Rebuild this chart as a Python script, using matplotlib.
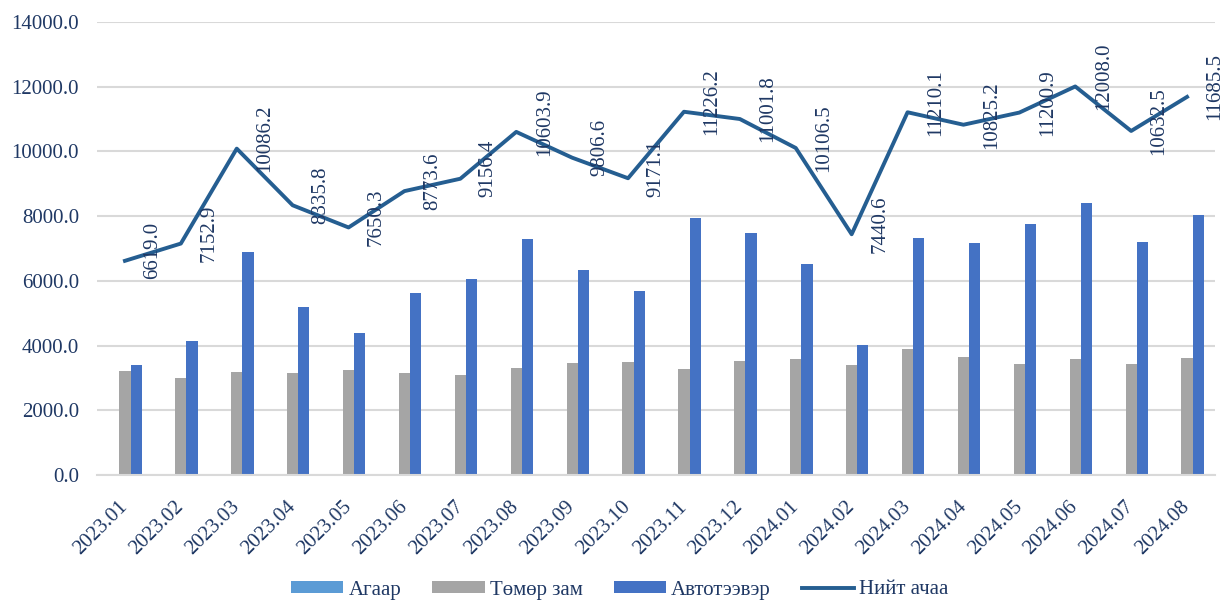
import matplotlib.pyplot as plt
import numpy as np

months = ["2023.01", "2023.02", "2023.03", "2023.04", "2023.05", "2023.06", "2023.07",
          "2023.08", "2023.09", "2023.10", "2023.11", "2023.12", "2024.01", "2024.02",
          "2024.03", "2024.04", "2024.05", "2024.06", "2024.07", "2024.08"]

# Агаар is too small to see on the chart
air = [0.2, 0.2, 0.2, 0.2, 0.2, 0.2, 0.2, 0.2, 0.2, 0.2,
       0.2, 0.2, 0.2, 0.2, 0.2, 0.2, 0.2, 0.2, 0.2, 0.2]
rail = [3210, 3005, 3170, 3150, 3260, 3140, 3080, 3315, 3455, 3490,
        3265, 3510, 3580, 3415, 3880, 3650, 3445, 3580, 3425, 3630]
road = [3395, 4145, 6900, 5180, 4385, 5620, 6070, 7280, 6345, 5675,
        7950, 7480, 6515, 4025, 7320, 7165, 7745, 8415, 7200, 8045]
total = [6619.0, 7152.9, 10086.2, 8335.8, 7650.3, 8773.6, 9156.4, 10603.9, 9806.6, 9171.1,
         11226.2, 11001.8, 10106.5, 7440.6, 11210.1, 10825.2, 11200.9, 12008.0, 10632.5, 11685.5]

navy = "#1F3864"
plt.rcParams["font.family"] = ["Liberation Serif", "DejaVu Serif"]

fig = plt.figure(figsize=(12.26, 6.01), dpi=100)
ax = fig.add_axes([97 / 1226, 1 - 475 / 601, 1118 / 1226, 453 / 601])

x = np.arange(len(months))
w = 0.2
b1 = ax.bar(x - w, air, w, color="#5B9BD5", label="Агаар", zorder=2)
b2 = ax.bar(x, rail, w, color="#A5A5A5", label="Төмөр зам", zorder=2)
b3 = ax.bar(x + w, road, w, color="#4472C4", label="Автотээвэр", zorder=2)
l1, = ax.plot(x, total, color="#255E91", lw=2.8, label="Нийт ачаа", zorder=3)

for xi, v in zip(x, total):
    ax.annotate(f"{v:.1f}", (xi, v), xytext=(28, 10), textcoords="offset pixels",
                rotation=90, ha="center", va="center", fontsize=15, color=navy, zorder=4)

ax.set_xlim(-0.5, len(months) - 0.5)
ax.set_ylim(0, 14000)
ax.set_yticks(np.arange(0, 14001, 2000))
ax.set_yticklabels([f"{t:.1f}" for t in np.arange(0, 14001, 2000)])
ax.set_xticks(x)
ax.set_xticklabels(months, rotation=45, ha="right", va="center", rotation_mode="anchor")
ax.tick_params(axis="both", length=0, labelsize=15, labelcolor=navy)
ax.tick_params(axis="x", pad=21)
ax.tick_params(axis="y", pad=13)
ax.grid(axis="y", color="#D9D9D9", lw=1.5, zorder=0)
for s in ["top", "right", "left"]:
    ax.spines[s].set_visible(False)
ax.spines["bottom"].set_color("#D9D9D9")
ax.spines["bottom"].set_linewidth(1.5)

fig.legend(handles=[b1, b2, b3, l1], loc="center", bbox_to_anchor=(620 / 1226, 1 - 590 / 601),
           ncol=4, frameon=False, fontsize=15, handlelength=2.5, handleheight=0.55,
           handletextpad=0.25, columnspacing=1.5, labelcolor=navy)

fig.savefig("out.png", dpi=100)
